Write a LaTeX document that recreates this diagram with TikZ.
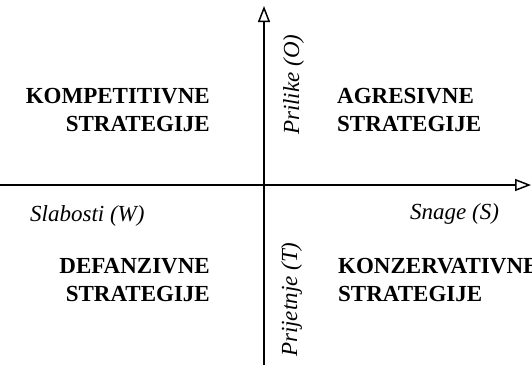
\documentclass[tikz,border=0pt]{standalone}
\usepackage{fontspec}
\setmainfont{Liberation Serif}
\usetikzlibrary{arrows.meta}

\tikzset{
  % ----- quadrant labels
  quad/.style={font=\fontsize{23}{28}\selectfont\bfseries, inner sep=0pt},
  % ----- axis labels
  axlabel/.style={font=\fontsize{23}{28}\selectfont\itshape, inner sep=0pt},
  axis/.style={line width=1.5pt, -{Triangle[open, length=16pt, width=12pt, line width=1.5pt]}}
}

\begin{document}
\begin{tikzpicture}[x=1pt, y=-1pt]
        \useasboundingbox (0,0) rectangle (532,365);

        % axes
        \coordinate (west) at (0,185);
        \coordinate (east) at (531,185);
        \coordinate (south) at (264,365);
        \coordinate (north) at (264,6);
        \draw[axis] (west) -- (east);
        \draw[axis] (south) -- (north);

        % quadrants (base = last line)
        \node[quad, anchor=base east, align=right] (komp) at (210,131) {KOMPETITIVNE\\STRATEGIJE};
        \node[quad, anchor=base west, align=left] (agr) at (337,131) {AGRESIVNE\\STRATEGIJE};
        \node[quad, anchor=base east, align=right] (def) at (210,301) {DEFANZIVNE\\STRATEGIJE};
        \node[quad, anchor=base west, align=left] (kons) at (338,301) {KONZERVATIVNE\\STRATEGIJE};

        % axis labels
        \node[axlabel, anchor=base west] (w) at (30,221) {Slabosti (W)};
        \node[axlabel, anchor=base west] (s) at (410,219) {Snage (S)};
        \node[axlabel, anchor=base west, rotate=90] (o) at (299,135) {Prilike (O)};
        \node[axlabel, anchor=base west, rotate=90] (t) at (297,357) {Prijetnje (T)};
\end{tikzpicture}
\end{document}
